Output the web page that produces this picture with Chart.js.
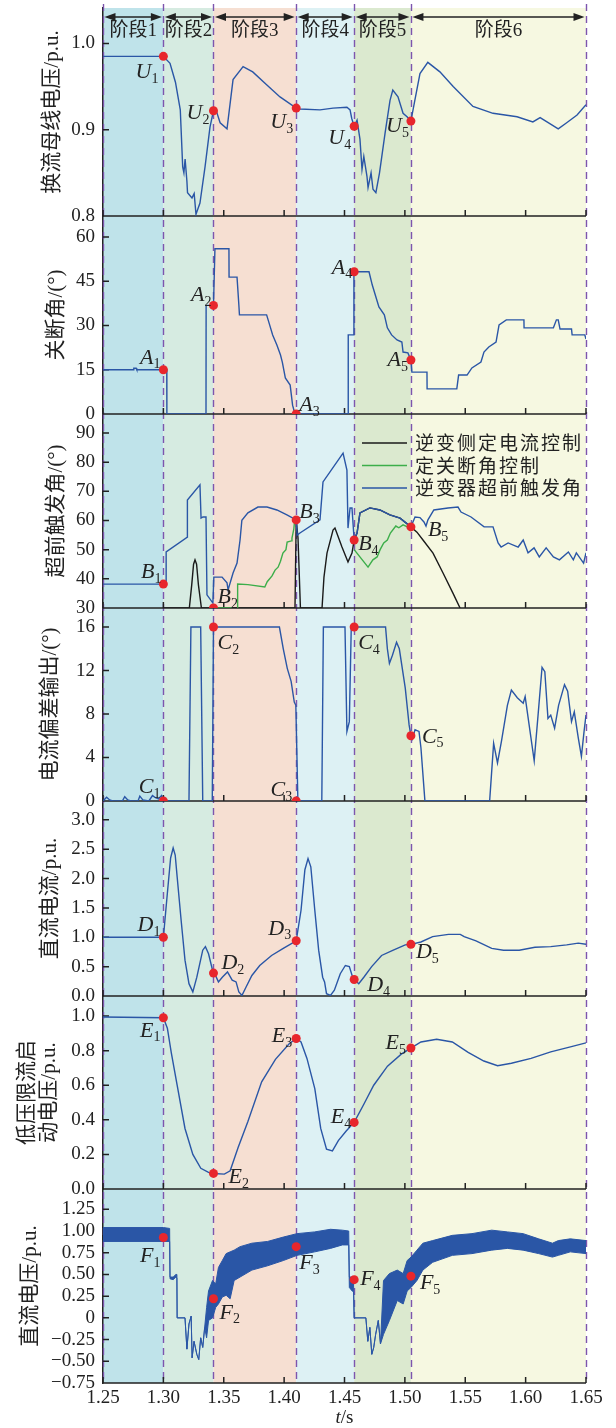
<!DOCTYPE html>
<html lang="zh">
<head>
<meta charset="UTF-8">
<title>换相失败各阶段波形</title>
<script src="https://cdn.jsdelivr.net/npm/chart.js"></script>
<style>
  body { margin: 0; background: #fff; }
  .wrap { position: relative; width: 616px; height: 1428px; }
</style>
</head>
<body>
<div class="wrap"><canvas id="chart"></canvas></div>
<script>
// ---- data ----
const timeTicks = [1.25, 1.30, 1.35, 1.40, 1.45, 1.50, 1.55, 1.60, 1.65];
const timeLabels = ['1.25', '1.30', '1.35', '1.40', '1.45', '1.50', '1.55', '1.60', '1.65'];

const stageEdges = [1.25, 1.30, 1.3415, 1.41, 1.458, 1.505, 1.65];
const stageNames = ['阶段1', '阶段2', '阶段3', '阶段4', '阶段5', '阶段6'];

const ticksU = [0.8, 0.9, 1.0];
const labelsU = ['0.8', '0.9', '1.0'];
const ticksA = [0, 15, 30, 45, 60];
const labelsA = ['0', '15', '30', '45', '60'];
const ticksB = [30, 40, 50, 60, 70, 80, 90];
const labelsB = ['30', '40', '50', '60', '70', '80', '90'];
const ticksC = [0, 4, 8, 12, 16];
const labelsC = ['0', '4', '8', '12', '16'];
const ticksD = [0, 0.5, 1.0, 1.5, 2.0, 2.5, 3.0];
const labelsD = ['0.0', '0.5', '1.0', '1.5', '2.0', '2.5', '3.0'];
const ticksE = [0, 0.2, 0.4, 0.6, 0.8, 1.0];
const labelsE = ['0.0', '0.2', '0.4', '0.6', '0.8', '1.0'];
const ticksF = [-0.75, -0.5, -0.25, 0, 0.25, 0.5, 0.75, 1.0, 1.25];
const labelsF = ['\u22120.75', '\u22120.50', '\u22120.25', '0', '0.25', '0.50', '0.75', '1.00', '1.25'];

const legendLabels = ['逆变侧定电流控制', '定关断角控制', '逆变器超前触发角'];

// marked points at the stage boundaries
const markerTimes = [1.30, 1.3415, 1.41, 1.458, 1.505];
const markerU = [0.985, 0.922, 0.925, 0.904, 0.910];
const markerA = [15, 36.8, 0, 48.2, 18.3];
const markerB = [38.2, 30, 60.2, 53.3, 57.8];
const markerC = [0, 16, 0, 16, 6.0];
const markerD = [1.0, 0.39, 0.94, 0.28, 0.88];
const markerE = [0.99, 0.09, 0.87, 0.385, 0.815];
const markerF = [0.925, 0.22, 0.82, 0.44, 0.48];

// 换流母线电压
const busVoltage = [[1.25,0.985],[1.30,0.985],[1.3055,0.977],[1.310,0.955],[1.314,0.923],[1.316,0.857],[1.317,0.850],[1.318,0.866],[1.3195,0.84],[1.320,0.827],[1.3237,0.821],[1.3255,0.826],[1.327,0.802],[1.3303,0.815],[1.3345,0.857],[1.3386,0.903],[1.3415,0.922],[1.344,0.921],[1.347,0.908],[1.3527,0.901],[1.3577,0.958],[1.366,0.973],[1.374,0.967],[1.3855,0.952],[1.3966,0.938],[1.41,0.925],[1.4131,0.924],[1.4297,0.923],[1.4405,0.925],[1.452,0.926],[1.4546,0.923],[1.456,0.913],[1.458,0.904],[1.4604,0.911],[1.4628,0.889],[1.4645,0.854],[1.466,0.869],[1.4686,0.846],[1.4695,0.833],[1.472,0.850],[1.4736,0.831],[1.476,0.827],[1.479,0.850],[1.4836,0.896],[1.4877,0.934],[1.490,0.946],[1.4943,0.938],[1.4985,0.919],[1.5018,0.915],[1.505,0.910],[1.5084,0.935],[1.5125,0.965],[1.519,0.978],[1.529,0.967],[1.540,0.950],[1.5564,0.927],[1.573,0.919],[1.5929,0.915],[1.606,0.909],[1.612,0.914],[1.6177,0.909],[1.627,0.901],[1.634,0.908],[1.6426,0.917],[1.65,0.929]];

// 关断角
const extinctionAngle = [[1.25,15],[1.275,15],[1.2755,15.5],[1.2775,15.5],[1.278,15],[1.30,15],[1.3028,15],[1.3029,0],[1.3353,0],[1.3354,36.8],[1.3415,36.8],[1.3427,56],[1.3543,56],[1.3544,46.4],[1.361,46.4],[1.3625,37],[1.363,33.6],[1.3855,33.6],[1.388,30.2],[1.3905,26.8],[1.394,23.4],[1.397,20],[1.3985,17.6],[1.401,12.2],[1.405,9.8],[1.407,3],[1.4085,0.7],[1.41,0],[1.453,0],[1.4531,26.8],[1.4575,26.8],[1.4578,48.2],[1.4703,48.2],[1.473,43.7],[1.4785,36.3],[1.483,33.6],[1.4855,29.2],[1.489,26.8],[1.4935,25.1],[1.4975,24.4],[1.4985,21],[1.5025,20.7],[1.505,18.3],[1.5058,14.2],[1.5183,14.2],[1.5184,8.5],[1.543,8.5],[1.5445,13.2],[1.5515,13.2],[1.5555,15.6],[1.563,17.6],[1.5655,21],[1.5695,22.7],[1.5755,24.4],[1.578,30.2],[1.584,31.9],[1.5986,31.9],[1.5987,29.2],[1.623,29.2],[1.6255,31.9],[1.627,31.9],[1.6285,28.8],[1.638,28.8],[1.6385,26.8],[1.649,26.8],[1.65,25.4]];

// 超前触发角
const advanceAngle = [[1.25,38.2],[1.30,38.2],[1.3022,38.2],[1.3023,49.2],[1.3198,54.3],[1.3199,67],[1.3303,72.2],[1.3312,60.8],[1.3328,61.2],[1.3353,61.2],[1.3361,34.5],[1.341,31.7],[1.3418,40.6],[1.3486,40.6],[1.3527,38.6],[1.3536,36.2],[1.3577,42],[1.361,45.4],[1.3635,53.3],[1.365,60.1],[1.370,62.6],[1.3783,64.6],[1.3858,64.6],[1.394,63.6],[1.4023,61.9],[1.41,60.2],[1.4108,55],[1.4131,55.7],[1.4297,60.2],[1.4322,73.2],[1.4488,83.1],[1.452,77.3],[1.4529,57.4],[1.4546,64.3],[1.4562,64.3],[1.458,53.3],[1.4604,55.7],[1.4628,62.6],[1.471,64.3],[1.4793,63.6],[1.4876,61.9],[1.496,60.8],[1.505,57.8],[1.5084,61.2],[1.5125,61.0],[1.5158,59.5],[1.5175,58.1],[1.5191,60.2],[1.524,63.6],[1.5357,64.3],[1.544,64.6],[1.5465,62.9],[1.5548,61.2],[1.5656,57.8],[1.573,57.8],[1.5772,52.3],[1.5797,50.9],[1.5855,52.3],[1.5938,50.9],[1.598,53.3],[1.602,48.9],[1.607,50.6],[1.6113,47.5],[1.617,50.6],[1.623,47.5],[1.628,46.5],[1.6354,49.2],[1.6395,46.5],[1.642,48.9],[1.648,45.4],[1.65,48.9]];

// 逆变侧定电流控制
const currentControl = [[1.30,30],[1.3215,30],[1.3235,38],[1.325,45],[1.3262,46.5],[1.3275,45],[1.329,38],[1.3315,30],[1.409,30],[1.41,60.2],[1.4115,54],[1.4135,30],[1.4314,30],[1.433,40.6],[1.4355,48.8],[1.4405,56.7],[1.4421,57.4],[1.4479,50.9],[1.4529,45.8],[1.4562,48.8],[1.458,53.3],[1.4604,55.7],[1.4628,62.6],[1.471,64.3],[1.4793,63.6],[1.4876,61.9],[1.496,60.8],[1.505,57.8],[1.510,56],[1.515,53.3],[1.5233,48.8],[1.5316,42],[1.5398,35.1],[1.5457,30]];

// 定关断角控制
const extinctionControl = [[1.3415,30],[1.361,30],[1.3615,38.2],[1.370,38],[1.384,37.2],[1.386,39],[1.390,41],[1.3925,43],[1.395,44],[1.397,46],[1.399,48.8],[1.4015,50],[1.4025,52.6],[1.406,53],[1.4065,54],[1.408,57],[1.4085,59.1],[1.41,60.2],[1.43,null],[1.458,50],[1.4695,44],[1.4735,46.5],[1.477,47.5],[1.4795,50],[1.4825,52.3],[1.4855,53.3],[1.488,55.7],[1.4925,58.1],[1.495,57.5],[1.4985,58.5],[1.502,57.8],[1.505,57.8]];

// 电流偏差输出
const currentDeviation = [[1.25,0],[1.253,0.35],[1.2555,0.1],[1.258,0],[1.266,0],[1.268,0.4],[1.2705,0.1],[1.273,0],[1.279,0],[1.2805,0.45],[1.283,0.1],[1.288,0],[1.291,0.5],[1.2935,0.3],[1.296,0.2],[1.2985,0.5],[1.30,0],[1.3212,0],[1.3228,16],[1.3309,16],[1.3326,0],[1.3405,0],[1.3415,16],[1.3961,16],[1.3993,14],[1.4026,12.2],[1.4058,11],[1.4084,9.1],[1.4097,8.8],[1.4114,0],[1.4312,0],[1.4325,16],[1.4504,16],[1.452,6.4],[1.454,7.3],[1.4556,16],[1.484,16],[1.4855,14],[1.4872,12.65],[1.4897,13.4],[1.4931,14.6],[1.4954,14],[1.5003,10.4],[1.5035,7.0],[1.505,6.0],[1.5062,5.7],[1.5084,6.55],[1.5117,6.4],[1.5133,4.9],[1.5166,0],[1.5702,0],[1.5735,5.3],[1.5767,3.5],[1.58,5.5],[1.5849,8.8],[1.5882,10.2],[1.5931,9.5],[1.598,9.0],[1.5996,9.6],[1.6029,7.0],[1.6071,3.7],[1.6103,7.9],[1.6136,12.3],[1.6159,11.9],[1.6185,7.6],[1.6208,7.9],[1.624,6.7],[1.6273,8.8],[1.6322,10.7],[1.6348,10.1],[1.638,7.3],[1.6403,8.2],[1.6436,5.8],[1.6462,4.1],[1.6484,6.4],[1.65,7.9]];

// 直流电流
const dcCurrent = [[1.25,1.0],[1.30,1.0],[1.3033,1.75],[1.306,2.35],[1.3081,2.52],[1.3098,2.4],[1.3114,2.03],[1.3147,1.29],[1.3179,0.61],[1.3212,0.21],[1.3244,0.07],[1.3277,0.32],[1.3326,0.78],[1.3348,0.84],[1.3374,0.72],[1.3407,0.44],[1.3423,0.39],[1.3456,0.24],[1.3488,0.32],[1.3531,0.41],[1.357,0.27],[1.3602,0.24],[1.3625,0.07],[1.3651,0.01],[1.3684,0.15],[1.3733,0.35],[1.3798,0.52],[1.3896,0.69],[1.3993,0.81],[1.41,0.94],[1.414,1.46],[1.4172,2.15],[1.4198,2.34],[1.4221,2.2],[1.4254,1.46],[1.4286,0.78],[1.4319,0.32],[1.4335,0.24],[1.4351,0.04],[1.4384,0.01],[1.4416,0.1],[1.4465,0.38],[1.4507,0.52],[1.454,0.5],[1.4563,0.35],[1.458,0.28],[1.4618,0.21],[1.466,0.32],[1.4725,0.5],[1.4807,0.69],[1.4904,0.78],[1.5003,0.87],[1.505,0.88],[1.5133,0.92],[1.523,1.01],[1.5361,1.05],[1.5459,1.05],[1.5491,1.01],[1.5589,0.94],[1.5719,0.81],[1.5817,0.78],[1.5947,0.78],[1.6077,0.83],[1.6208,0.84],[1.634,0.87],[1.6436,0.9],[1.65,0.88]];

// 低压限流启动电压
const vdclStart = [[1.25,0.995],[1.30,0.99],[1.3033,0.93],[1.3065,0.79],[1.3114,0.60],[1.3179,0.35],[1.3244,0.20],[1.331,0.12],[1.3374,0.096],[1.3415,0.09],[1.3505,0.086],[1.3553,0.105],[1.3619,0.24],[1.37,0.39],[1.3814,0.62],[1.3928,0.75],[1.4042,0.84],[1.41,0.87],[1.414,0.85],[1.4189,0.755],[1.4254,0.58],[1.4303,0.35],[1.4351,0.23],[1.44,0.22],[1.4449,0.28],[1.4514,0.335],[1.458,0.385],[1.466,0.49],[1.4742,0.60],[1.4856,0.71],[1.497,0.78],[1.505,0.815],[1.5133,0.85],[1.5263,0.866],[1.5393,0.85],[1.5524,0.79],[1.5654,0.74],[1.5768,0.713],[1.5882,0.727],[1.6045,0.755],[1.6208,0.793],[1.6371,0.822],[1.65,0.845]];

// 直流电压: [t, upper envelope, lower envelope] of the ripple band
const dcVoltageBand = [[1.25,1.04,0.88],[1.30,1.04,0.88],[1.3052,1.03,0.88],[1.3055,0.47,0.45],[1.3081,0.47,0.44],[1.3104,0.50,0.47],[1.3112,0.50,0.46],[1.3114,0.0,0.0],[1.3179,0.0,0.0],[1.3195,-0.36,-0.36],[1.3212,-0.07,-0.07],[1.323,0.02,0.02],[1.3238,-0.46,-0.46],[1.3254,-0.27,-0.27],[1.3277,-0.42,-0.42],[1.3293,-0.48,-0.48],[1.3309,-0.23,-0.23],[1.3326,-0.34,-0.34],[1.3342,-0.11,-0.11],[1.3358,0.12,-0.23],[1.3374,0.31,-0.03],[1.3407,0.43,0.0],[1.3433,0.39,0.12],[1.3456,0.58,0.16],[1.3488,0.66,0.24],[1.352,0.74,0.26],[1.3553,0.76,0.22],[1.3586,0.78,0.43],[1.3635,0.82,0.47],[1.3733,0.86,0.55],[1.3863,0.88,0.60],[1.3993,0.93,0.66],[1.4107,0.97,0.72],[1.4253,0.99,0.76],[1.4384,1.02,0.80],[1.4482,1.01,0.84],[1.4535,1.0,0.84],[1.454,0.47,0.35],[1.4563,0.47,0.31],[1.4575,0.40,0.30],[1.458,0.0,0.0],[1.4677,0.0,0.0],[1.4693,-0.27,-0.27],[1.471,-0.11,-0.11],[1.4726,-0.42,-0.42],[1.4742,-0.34,-0.34],[1.4758,-0.19,-0.19],[1.478,-0.03,-0.03],[1.4798,-0.30,-0.30],[1.4823,0.43,-0.19],[1.4872,0.51,-0.03],[1.4937,0.55,0.20],[1.4986,0.51,0.16],[1.5019,0.66,0.31],[1.5051,0.70,0.35],[1.51,0.78,0.43],[1.5149,0.86,0.55],[1.523,0.89,0.64],[1.5393,0.95,0.72],[1.5556,0.97,0.74],[1.5719,1.01,0.78],[1.5849,0.99,0.80],[1.5979,0.97,0.78],[1.6108,0.91,0.74],[1.6222,0.86,0.70],[1.6271,0.89,0.72],[1.637,0.91,0.76],[1.65,0.89,0.74]];

// ---- styling ----
const SERIF = "'Liberation Serif', 'Noto Sans CJK SC', serif";
const INK = '#222';
const BLUE = '#2a56a6';
const BLACK = '#1a1a1a';
const GREEN = '#3cae4a';
const RED = '#e8262c';
const PURPLE = '#7d55ae';
const stageColors = ['#bfe3ea', '#d6ebe1', '#f6dfd2', '#ddf1f4', '#dbe9cf', '#f6f8e1'];
const legendColors = [BLACK, GREEN, BLUE];
const AXIS_W = 103;

// panel layout (top to bottom); h = panel height, tx = title centre x
const panels = [
  {id: 'y1', min: 0.8, max: 1.041, h: 208, ticks: ticksU, labels: labelsU, title: '换流母线电压/p.u.', tx: 52},
  {id: 'y2', min: 0, max: 67.1, h: 198, ticks: ticksA, labels: labelsA, title: '关断角/(°)', tx: 56},
  {id: 'y3', min: 30, max: 96.5, h: 194, ticks: ticksB, labels: labelsB, title: '超前触发角/(°)', tx: 56},
  {id: 'y4', min: 0, max: 17.75, h: 193, ticks: ticksC, labels: labelsC, title: '电流偏差输出/(°)', tx: 50},
  {id: 'y5', min: 0, max: 3.32, h: 195, ticks: ticksD, labels: labelsD, title: '直流电流/p.u.', tx: 50},
  {id: 'y6', min: 0, max: 1.116, h: 193, ticks: ticksE, labels: labelsE, title: ['低压限流启', '动电压/p.u.'], tx: 27},
  {id: 'y7', min: -0.75, max: 1.484, h: 194, ticks: ticksF, labels: labelsF, title: '直流电压/p.u.', tx: 30}
];

// label offsets for marked points: [dx, dy, side]
const markOffsets = {
  U: [[-5,16,'r'],[-4,3,'r'],[-3,14,'r'],[-3,12,'r'],[-2,5,'r']],
  A: [[-3,-12,'r'],[-2,-10,'r'],[3,-9,'l'],[-2,-4,'r'],[-3,0,'r']],
  B: [[-2,-12,'r'],[4,-11,'l'],[3,-8,'l'],[4,4,'l'],[17,3,'l']],
  C: [[-3,-14,'r'],[4,16,'l'],[-4,-11,'r'],[4,16,'l'],[11,1,'l']],
  D: [[-3,-12,'r'],[8,-10,'l'],[-5,-12,'r'],[13,6,'l'],[5,8,'l']],
  E: [[-3,13,'r'],[15,4,'l'],[-4,-2,'r'],[-3,-5,'r'],[-5,-5,'r']],
  F: [[-3,19,'r'],[6,14,'l'],[3,17,'l'],[6,0,'l'],[9,7,'l']]
};

const pts = arr => arr.map(([x, y]) => ({x, y}));

function lineSet(arr, axis, color, extra) {
  return Object.assign({
    data: pts(arr), yAxisID: axis, borderColor: color, borderWidth: 1.4,
    pointRadius: 0, fill: false, spanGaps: false
  }, extra || {});
}

function markerSet(vals, axis, letter) {
  return {
    data: markerTimes.map((t, i) => ({x: t, y: vals[i]})), yAxisID: axis,
    showLine: false, pointRadius: 4.5, pointBackgroundColor: RED, pointBorderWidth: 0,
    markLetter: letter, markOffsets: markOffsets[letter]
  };
}

const datasets = [
  markerSet(markerU, 'y1', 'U'),
  markerSet(markerA, 'y2', 'A'),
  markerSet(markerB, 'y3', 'B'),
  markerSet(markerC, 'y4', 'C'),
  markerSet(markerD, 'y5', 'D'),
  markerSet(markerE, 'y6', 'E'),
  markerSet(markerF, 'y7', 'F'),
  lineSet(busVoltage, 'y1', BLUE),
  lineSet(extinctionAngle, 'y2', BLUE),
  lineSet(advanceAngle, 'y3', BLUE),
  lineSet(currentDeviation, 'y4', BLUE),
  lineSet(dcCurrent, 'y5', BLUE),
  lineSet(vdclStart, 'y6', BLUE),
  lineSet(dcVoltageBand.map(r => [r[0], r[1]]), 'y7', BLUE, {fill: '+1', backgroundColor: BLUE, borderWidth: 1}),
  lineSet(dcVoltageBand.map(r => [r[0], r[2]]), 'y7', BLUE, {borderWidth: 1}),
  lineSet(extinctionControl, 'y3', GREEN),
  lineSet(currentControl, 'y3', BLACK)
];

// ---- scales ----
const scales = {
  x: {
    type: 'linear', position: 'bottom', min: 1.25, max: 1.65,
    afterBuildTicks: s => { s.ticks = timeTicks.map(v => ({value: v})); },
    afterFit: s => { s.height = 45; },
    grid: {display: false, drawTicks: false},
    border: {display: false},
    ticks: {autoSkip: false, maxRotation: 0, padding: 4, color: INK,
      font: {family: SERIF, size: 19}, callback: (v, i) => timeLabels[i]}
  }
};
panels.forEach((p, i) => {
  scales[p.id] = {
    type: 'linear', position: 'left', stack: 'panels', stackWeight: p.h,
    weight: panels.length - i, min: p.min, max: p.max,
    afterBuildTicks: s => { s.ticks = p.ticks.map(v => ({value: v})); },
    afterFit: s => { s.width = AXIS_W; s.paddingTop = 0; s.paddingBottom = 0; },
    grid: {display: false, drawTicks: false},
    border: {display: true, color: INK, width: 1.5},
    ticks: {autoSkip: false, padding: 8, color: INK,
      font: {family: SERIF, size: 19}, callback: (v, k) => p.labels[k]},
    title: {display: true, text: p.title, color: INK,
      font: {family: SERIF, size: 21, lineHeight: 1.05},
      padding: {top: p.tx - 11, bottom: 0}}
  };
});

function arrowHead(ctx, x, y, dir) {
  ctx.beginPath();
  ctx.moveTo(x, y);
  ctx.lineTo(x + dir * 11, y - 4);
  ctx.lineTo(x + dir * 11, y + 4);
  ctx.closePath();
  ctx.fill();
}

const decor = {
  id: 'decor',
  beforeDraw(chart) {
    const {ctx, chartArea: a, scales: {x}} = chart;
    ctx.save();
    ctx.fillStyle = '#fff';
    ctx.fillRect(0, 0, chart.width, chart.height);
    stageColors.forEach((c, i) => {
      const x0 = x.getPixelForValue(stageEdges[i]);
      const x1 = x.getPixelForValue(stageEdges[i + 1]);
      ctx.fillStyle = c;
      ctx.fillRect(x0, a.top, x1 - x0, a.bottom - a.top);
    });
    ctx.restore();
  },
  beforeDatasetsDraw(chart) {
    const {ctx, chartArea: a, scales: sc} = chart;
    const x = sc.x;
    ctx.save();
    // stage boundaries
    ctx.strokeStyle = PURPLE;
    ctx.lineWidth = 1.4;
    ctx.setLineDash([7, 5]);
    stageEdges.forEach(t => {
      const px = Math.round(x.getPixelForValue(t)) + 0.5;
      ctx.beginPath();
      ctx.moveTo(px, a.top - 4);
      ctx.lineTo(px, a.bottom);
      ctx.stroke();
    });
    ctx.setLineDash([]);
    // bottom axis line and inward tick marks of every panel
    ctx.strokeStyle = INK;
    ctx.lineWidth = 1.5;
    panels.forEach(p => {
      const s = sc[p.id];
      ctx.beginPath();
      ctx.moveTo(a.left, s.bottom);
      ctx.lineTo(a.right, s.bottom);
      timeTicks.forEach(t => {
        const px = x.getPixelForValue(t);
        ctx.moveTo(px, s.bottom);
        ctx.lineTo(px, s.bottom - 6);
      });
      p.ticks.forEach(v => {
        const py = s.getPixelForValue(v);
        ctx.moveTo(a.left, py);
        ctx.lineTo(a.left + 6, py);
      });
      ctx.stroke();
    });
    ctx.restore();
  },
  afterDatasetsDraw(chart) {
    const {ctx} = chart;
    ctx.save();
    ctx.fillStyle = INK;
    ctx.textBaseline = 'middle';
    ctx.textAlign = 'left';
    chart.data.datasets.forEach((ds, di) => {
      if (!ds.markLetter) return;
      const meta = chart.getDatasetMeta(di);
      meta.data.forEach((pt, i) => {
        const [dx, dy, side] = ds.markOffsets[i];
        const sub = String(i + 1);
        ctx.font = 'italic 22px ' + SERIF;
        const w1 = ctx.measureText(ds.markLetter).width;
        ctx.font = '14px ' + SERIF;
        const w2 = ctx.measureText(sub).width;
        const left = side === 'r' ? pt.x + dx - w1 - w2 : pt.x + dx;
        ctx.font = 'italic 22px ' + SERIF;
        ctx.fillText(ds.markLetter, left, pt.y + dy);
        ctx.font = '14px ' + SERIF;
        ctx.fillText(sub, left + w1, pt.y + dy + 7);
      });
    });
    ctx.restore();
  },
  afterDraw(chart) {
    const {ctx, chartArea: a, scales: sc} = chart;
    const x = sc.x;
    ctx.save();
    // stage header with double arrows
    ctx.strokeStyle = INK;
    ctx.fillStyle = INK;
    ctx.lineWidth = 1.3;
    const ay = a.top + 9;
    stageNames.forEach((name, i) => {
      const x0 = x.getPixelForValue(stageEdges[i]) + 1.5;
      const x1 = x.getPixelForValue(stageEdges[i + 1]) - 1.5;
      ctx.beginPath();
      ctx.moveTo(x0 + 6, ay);
      ctx.lineTo(x1 - 6, ay);
      ctx.stroke();
      arrowHead(ctx, x0, ay, 1);
      arrowHead(ctx, x1, ay, -1);
      ctx.font = '19px ' + SERIF;
      ctx.textAlign = 'center';
      ctx.textBaseline = 'middle';
      ctx.fillText(name, (x0 + x1) / 2, a.top + 23);
    });
    // legend of the third panel
    const s3 = sc.y3;
    ctx.textAlign = 'left';
    ctx.font = "19px 'Noto Sans CJK SC', sans-serif";
    ctx.letterSpacing = '2px';
    legendLabels.forEach((label, i) => {
      const ly = s3.top + 29 + i * 22.5;
      ctx.strokeStyle = legendColors[i];
      ctx.lineWidth = 1.6;
      ctx.beginPath();
      ctx.moveTo(a.right - 224, ly);
      ctx.lineTo(a.right - 179, ly);
      ctx.stroke();
      ctx.fillStyle = INK;
      ctx.fillText(label, a.right - 171, ly);
    });
    ctx.letterSpacing = '0px';
    // x axis title t/s
    ctx.font = 'italic 19px ' + SERIF;
    const wt = ctx.measureText('t').width;
    ctx.font = '19px ' + SERIF;
    const ws = ctx.measureText('/s').width;
    const cx = (a.left + a.right) / 2 - (wt + ws) / 2;
    const ty = chart.height - 10;
    ctx.font = 'italic 19px ' + SERIF;
    ctx.fillText('t', cx, ty);
    ctx.font = '19px ' + SERIF;
    ctx.fillText('/s', cx + wt, ty);
    ctx.restore();
  }
};

new Chart(document.getElementById('chart'), {
  type: 'line',
  data: {datasets},
  options: {
    responsive: true,
    maintainAspectRatio: false,
    animation: false,
    devicePixelRatio: 1,
    events: [],
    layout: {padding: {top: 8, right: 30, bottom: 0, left: 0}},
    elements: {line: {tension: 0}, point: {radius: 0}},
    scales,
    plugins: {legend: {display: false}, tooltip: {enabled: false}}
  },
  plugins: [decor]
});
</script>
</body>
</html>
